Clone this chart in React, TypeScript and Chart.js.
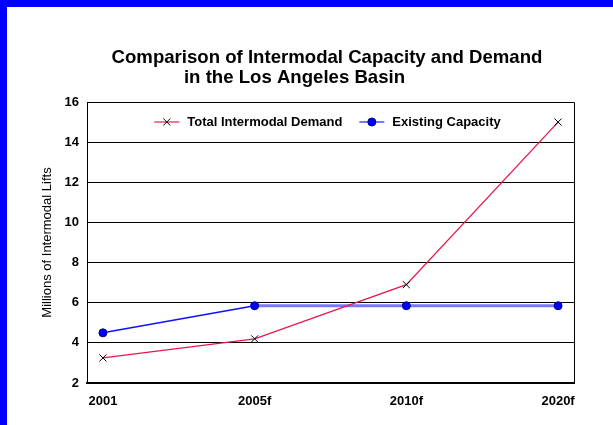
import React, { useEffect, useRef } from "react";
import { Chart, registerables } from "chart.js";

Chart.register(...registerables);

const categories = ["2001", "2005f", "2010f", "2020f"];
const demandValues = [3.25, 4.2, 6.9, 15];
const capacityValues = [4.5, 5.85, 5.85, 5.85];
const seriesNames = ["Total Intermodal Demand", "Existing Capacity"];
const titleLines = ["Comparison of Intermodal Capacity and Demand", "in the Los Angeles Basin"];
const yAxisTitle = "Millions of Intermodal Lifts";
const yMin = 2;
const yMax = 16;
const yStep = 2;

const FONT = "'Liberation Sans', Arial, Helvetica, sans-serif";

const decorPlugin = {
  id: "decor",
  beforeDatasetsDraw(chart: any) {
    const { ctx, chartArea: a } = chart;
    ctx.save();
    ctx.strokeStyle = "#000";
    ctx.lineWidth = 1;
    const r = Math.round(a.right) + 0.5;
    const t = Math.round(a.top) + 0.5;
    ctx.beginPath();
    ctx.moveTo(a.left, t);
    ctx.lineTo(r, t);
    ctx.lineTo(r, a.bottom);
    ctx.stroke();
    ctx.restore();
  },
  afterDraw(chart: any) {
    const { ctx, chartArea: a } = chart;
    const cx = (a.left + a.right) / 2;
    ctx.save();
    // title
    ctx.fillStyle = "#000";
    ctx.font = `bold 18.6px ${FONT}`;
    ctx.textAlign = "center";
    ctx.textBaseline = "middle";
    ctx.fillText(titleLines[0], cx - 3.5, 50.5);
    ctx.fillText(titleLines[1], cx - 36, 70.5);

    // legend
    ctx.font = `bold 13px ${FONT}`;
    const lineLen = 25;
    const gap = 8;
    const itemGap = 17;
    const widths = seriesNames.map((n) => lineLen + gap + ctx.measureText(n).width);
    const total = widths.reduce((s, w) => s + w, 0) + itemGap * (widths.length - 1);
    let x = cx - 3 - total / 2;
    const y = a.top + 20;
    const sampleColors = ["#f07890", "#7878ff"];
    seriesNames.forEach((name, i) => {
      ctx.strokeStyle = sampleColors[i];
      ctx.lineWidth = 2;
      ctx.beginPath();
      ctx.moveTo(x, y);
      ctx.lineTo(x + lineLen, y);
      ctx.stroke();
      const mx = x + lineLen / 2;
      if (i === 0) {
        ctx.strokeStyle = "#000";
        ctx.lineWidth = 1;
        const d = 3.5;
        ctx.beginPath();
        ctx.moveTo(mx - d, y - d);
        ctx.lineTo(mx + d, y + d);
        ctx.moveTo(mx - d, y + d);
        ctx.lineTo(mx + d, y - d);
        ctx.stroke();
      } else {
        ctx.fillStyle = "#0000ff";
        ctx.strokeStyle = "#000080";
        ctx.lineWidth = 1;
        ctx.beginPath();
        ctx.arc(mx, y, 4, 0, Math.PI * 2);
        ctx.fill();
        ctx.stroke();
      }
      ctx.fillStyle = "#000";
      ctx.textAlign = "left";
      ctx.textBaseline = "middle";
      ctx.fillText(name, x + lineLen + gap, y + 0.5);
      x += widths[i] + itemGap;
    });
    ctx.restore();
  },
};

export default function App() {
  const canvasRef = useRef<HTMLCanvasElement | null>(null);

  useEffect(() => {
    const canvas = canvasRef.current;
    if (!canvas) return;
    const chart = new Chart(canvas, {
      type: "line",
      data: {
        datasets: [
          {
            label: seriesNames[0],
            data: demandValues.map((v, i) => ({ x: i, y: v })),
            borderColor: "#e8174b",
            borderWidth: 1.3,
            pointStyle: "crossRot",
            pointRadius: 5,
            pointBorderColor: "#000",
            pointBorderWidth: 1,
            pointBackgroundColor: "#000",
            tension: 0,
          },
          {
            label: seriesNames[1],
            data: capacityValues.map((v, i) => ({ x: i, y: v })),
            borderColor: "#1010ff",
            borderWidth: 1.5,
            pointStyle: "circle",
            pointRadius: 4,
            pointBackgroundColor: "#0000ff",
            pointBorderColor: "#000080",
            pointBorderWidth: 1,
            tension: 0,
            segment: {
              borderColor: (c: any) => (c.p0DataIndex >= 1 ? "#7878ff" : "#1010ff"),
              borderWidth: (c: any) => (c.p0DataIndex >= 1 ? 3 : 1.5),
            },
          },
        ],
      },
      options: {
        animation: false,
        responsive: false,
        layout: { padding: { top: 95, right: 39, bottom: 6, left: 0 } },
        plugins: {
          legend: { display: false },
          title: { display: false },
          tooltip: { enabled: false },
        },
        scales: {
          x: {
            type: "linear",
            min: -0.105,
            max: categories.length - 1 + 0.105,
            afterBuildTicks: (scale: any) => {
              scale.ticks = categories.map((_, i) => ({ value: i }));
            },
            afterFit: (scale: any) => {
              scale.height = 36;
            },
            grid: { display: false, drawTicks: false },
            border: { display: true, color: "#000", width: 2 },
            ticks: {
              padding: 11,
              color: "#000",
              font: { family: FONT, size: 13, weight: "bold" },
              callback: (v: any) => categories[v] ?? "",
              maxRotation: 0,
              autoSkip: false,
            },
          },
          y: {
            min: yMin,
            max: yMax,
            afterFit: (scale: any) => {
              scale.width = 80;
            },
            grid: { color: "#000", lineWidth: 1, drawTicks: false },
            border: { display: true, color: "#000", width: 1 },
            ticks: {
              stepSize: yStep,
              padding: 8,
              color: "#000",
              font: { family: FONT, size: 13, weight: "bold" },
            },
            title: {
              display: true,
              text: yAxisTitle,
              color: "#000",
              font: { family: FONT, size: 13, weight: "normal" },
              padding: { top: 33, bottom: 0 },
            },
          },
        },
      },
      plugins: [decorPlugin],
    } as any);
    return () => chart.destroy();
  }, []);

  return (
    <div
      style={{
        position: "absolute",
        left: 0,
        top: 0,
        width: 613,
        height: 425,
        boxSizing: "border-box",
        background: "#fff",
        borderLeft: "7px solid #0000ff",
        borderTop: "7px solid #0000ff",
        overflow: "hidden",
      }}
    >
      <canvas ref={canvasRef} width={606} height={418} style={{ display: "block" }} />
    </div>
  );
}
